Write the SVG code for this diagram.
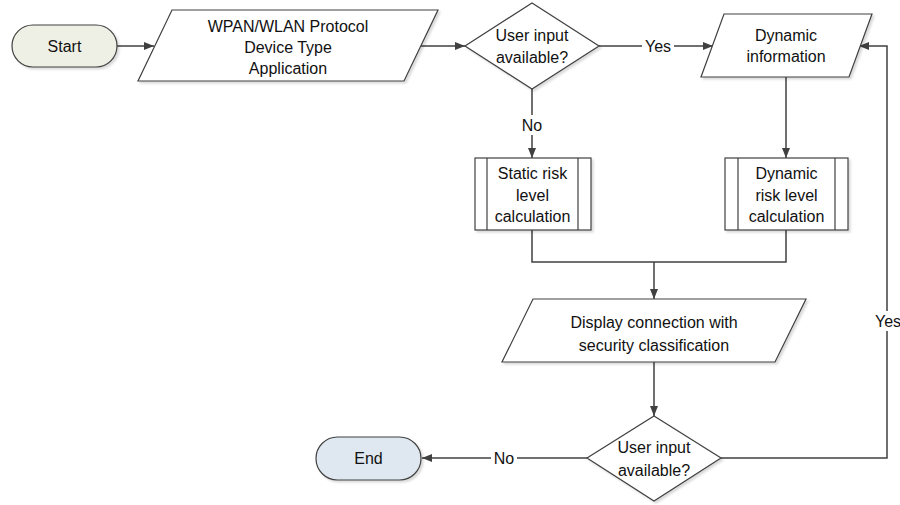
<svg xmlns="http://www.w3.org/2000/svg" width="900" height="505" viewBox="0 0 900 505">
<defs>
<marker id="arr" markerWidth="10" markerHeight="10" viewBox="0 0 10 10" refX="10" refY="5" orient="auto" markerUnits="userSpaceOnUse">
<path d="M0,1 L10,5 L0,9 Z" fill="#404040"/>
</marker>
<filter id="sh" x="-10%" y="-10%" width="130%" height="130%">
<feDropShadow dx="2" dy="2" stdDeviation="1" flood-color="#000" flood-opacity="0.15"/>
</filter>
</defs>
<style>
.n{fill:#fff;stroke:#404040;stroke-width:1.2;filter:url(#sh)}
.ln{fill:none;stroke:#404040;stroke-width:1.2}
.c{fill:none;stroke:#404040;stroke-width:1.5}
text{font-family:"Liberation Sans",Arial,sans-serif;font-size:16px;fill:#111;text-anchor:middle;dominant-baseline:central}
.bg{fill:#fff}
</style>
<g id="connectors">
<line class="c" x1="117" y1="46" x2="154" y2="46" marker-end="url(#arr)"/>
<line class="c" x1="421" y1="46" x2="465" y2="46" marker-end="url(#arr)"/>
<line class="c" x1="599" y1="46" x2="713" y2="46" marker-end="url(#arr)"/>
<line class="c" x1="532" y1="89" x2="532" y2="158" marker-end="url(#arr)"/>
<line class="c" x1="786" y1="77" x2="786" y2="158" marker-end="url(#arr)"/>
<polyline class="c" points="532,230 532,262 786,262 786,230"/>
<line class="c" x1="654" y1="262" x2="654" y2="299" marker-end="url(#arr)"/>
<line class="c" x1="654" y1="362" x2="654" y2="416" marker-end="url(#arr)"/>
<line class="c" x1="587" y1="458" x2="422" y2="458" marker-end="url(#arr)"/>
<polyline class="c" points="721,458 887,458 887,46 859,46" marker-end="url(#arr)"/>
<rect class="bg" x="642" y="36" width="32" height="20"/>
<text x="658" y="46">Yes</text>
<rect class="bg" x="519" y="115" width="26" height="20"/>
<text x="532" y="125">No</text>
<rect class="bg" x="491" y="448" width="26" height="20"/>
<text x="504" y="458">No</text>
<rect class="bg" x="872" y="311" width="32" height="20"/>
<text x="888" y="321">Yes</text>
</g>
<g id="start">
<rect class="n" x="12" y="25" width="105" height="42" rx="21" style="fill:#eff0e5"/>
<text x="64.5" y="46">Start</text>
</g>
<g id="input-params">
<polygon class="n" points="172,10 438,10 404,81 138,81"/>
<text x="288" y="26">WPAN/WLAN Protocol</text>
<text x="288" y="47">Device Type</text>
<text x="288" y="68">Application</text>
</g>
<g id="decision1">
<polygon class="n" points="532,3 599,46 532,89 465,46"/>
<text x="532" y="35">User input</text>
<text x="532" y="57">available?</text>
</g>
<g id="dynamic-info">
<polygon class="n" points="724,14 872,14 849,77 701,77"/>
<text x="786" y="35">Dynamic</text>
<text x="786" y="56">information</text>
</g>
<g id="static-risk">
<rect class="n" x="475" y="158" width="116" height="72"/>
<line class="ln" x1="487" y1="158" x2="487" y2="230"/>
<line class="ln" x1="578" y1="158" x2="578" y2="230"/>
<text x="532.5" y="173">Static risk</text>
<text x="532.5" y="195">level</text>
<text x="532.5" y="216">calculation</text>
</g>
<g id="dynamic-risk">
<rect class="n" x="725" y="158" width="123" height="72"/>
<line class="ln" x1="738" y1="158" x2="738" y2="230"/>
<line class="ln" x1="835" y1="158" x2="835" y2="230"/>
<text x="786.5" y="173">Dynamic</text>
<text x="786.5" y="195">risk level</text>
<text x="786.5" y="216">calculation</text>
</g>
<g id="display">
<polygon class="n" points="533,299 806,299 775,362 502,362"/>
<text x="654" y="322">Display connection with</text>
<text x="654" y="345">security classification</text>
</g>
<g id="decision2">
<polygon class="n" points="654,416 721,458 654,501 587,458"/>
<text x="654" y="447">User input</text>
<text x="654" y="470">available?</text>
</g>
<g id="end">
<rect class="n" x="316" y="437" width="105" height="43" rx="21.5" style="fill:#dfe8f1"/>
<text x="368.5" y="458.5">End</text>
</g>
</svg>
